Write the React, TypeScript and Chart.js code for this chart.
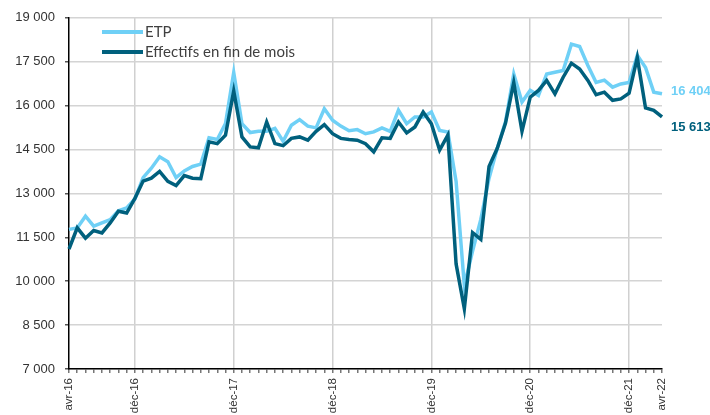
import React, { useEffect, useRef } from "react";
import { Chart, registerables } from "chart.js";

Chart.register(...registerables);

const MONTH_NAMES = ["janv", "févr", "mars", "avr", "mai", "juin", "juil", "août", "sept", "oct", "nov", "déc"];
// Monthly categories from avr-16 to avr-22
const START_YEAR = 16;
const START_MONTH = 3; // avr
const N_MONTHS = 73;
const categories: string[] = [];
for (let i = 0; i < N_MONTHS; i++) {
  const m = (START_MONTH + i) % 12;
  const y = START_YEAR + Math.floor((START_MONTH + i) / 12);
  categories.push(`${MONTH_NAMES[m]}-${y}`);
}

const shownTickLabels = ["avr-16", "déc-16", "déc-17", "déc-18", "déc-19", "déc-20", "déc-21", "avr-22"];
const gridMonths = ["déc-16", "déc-17", "déc-18", "déc-19", "déc-20", "déc-21"];

const etp = [
  11770, 11820, 12220, 11880, 11990, 12100, 12410, 12500, 12810, 13540,
  13860, 14250, 14080, 13540, 13770, 13920, 14000, 14900, 14840, 15390,
  17130, 15380, 15080, 15120, 15120, 15220, 14780, 15330, 15520, 15300,
  15240, 15890, 15500, 15300, 15140, 15180, 15040, 15100, 15240, 15120,
  15840, 15380, 15610, 15610, 15780, 15150, 15100, 13410, 9850, 11030,
  12110, 13520, 14540, 15450, 17080, 16120, 16520, 16350, 17080, 17140,
  17200, 18100, 18020, 17370, 16790, 16870, 16630, 16740, 16790, 17720,
  17300, 16460, 16404,
];

const effectifs = [
  11100, 11824, 11470, 11730, 11650, 11990, 12390, 12330, 12830, 13420,
  13520, 13750, 13410, 13270, 13610, 13520, 13500, 14760, 14700, 14990,
  16500, 14930, 14590, 14560, 15440, 14700, 14630, 14880, 14930, 14820,
  15120, 15350, 15040, 14880, 14840, 14820, 14700, 14420, 14900, 14880,
  15440, 15070, 15270, 15780, 15380, 14480, 14990, 10590, 9060, 11660,
  11430, 13920, 14540, 15400, 16790, 15120, 16290, 16520, 16860, 16400,
  16970, 17450, 17250, 16860, 16370, 16460, 16180, 16230, 16420, 17640,
  15920, 15840, 15613,
];

const seriesNames = ["ETP", "Effectifs en fin de mois"];
const Y_MIN = 7000;
const Y_MAX = 19000;
const Y_STEP = 1500;

const LIGHT = "#6fd0f6";
const DARK = "#00607d";

const fmt = (v: number) => String(Math.round(v)).replace(/\B(?=(\d{3})+(?!\d))/g, " ");

const overlayPlugin = {
  id: "overlay",
  afterDatasetsDraw(chart: any) {
    const ctx = chart.ctx as CanvasRenderingContext2D;
    const ys = chart.scales.y;
    ctx.save();
    // legend
    const items = [
      { name: seriesNames[0], color: LIGHT, y: 32 },
      { name: seriesNames[1], color: DARK, y: 52 },
    ];
    items.forEach((it) => {
      ctx.strokeStyle = it.color;
      ctx.lineWidth = 4;
      ctx.beginPath();
      ctx.moveTo(102, it.y);
      ctx.lineTo(143, it.y);
      ctx.stroke();
      ctx.fillStyle = "#404040";
      ctx.font = "15px Lato, 'Open Sans', sans-serif";
      ctx.textAlign = "left";
      ctx.textBaseline = "middle";
      ctx.fillText(it.name, 145, it.y);
    });
    // end labels
    const xEnd = chart.chartArea.right + 9;
    ctx.font = "bold 13px Arial, 'Liberation Sans', sans-serif";
    ctx.textAlign = "left";
    ctx.textBaseline = "middle";
    const lastE = etp[etp.length - 1];
    const lastF = effectifs[effectifs.length - 1];
    ctx.fillStyle = LIGHT;
    ctx.fillText(fmt(lastE), xEnd, ys.getPixelForValue(lastE) - 2);
    ctx.fillStyle = DARK;
    ctx.fillText(fmt(lastF), xEnd, ys.getPixelForValue(lastF) + 10);
    ctx.restore();
  },
};

export default function App() {
  const ref = useRef<HTMLCanvasElement | null>(null);
  useEffect(() => {
    if (!ref.current) return;
    const chart = new Chart(ref.current, {
      type: "line",
      data: {
        labels: categories,
        datasets: [
          {
            label: seriesNames[0],
            data: etp,
            borderColor: LIGHT,
            backgroundColor: LIGHT,
            borderWidth: 3.5,
            pointRadius: 0,
            tension: 0,
            order: 2,
          },
          {
            label: seriesNames[1],
            data: effectifs,
            borderColor: DARK,
            backgroundColor: DARK,
            borderWidth: 3.5,
            pointRadius: 0,
            tension: 0,
            order: 1,
          },
        ],
      },
      options: {
        responsive: false,
        animation: false,
        layout: { padding: { left: 0, right: 48, top: 13, bottom: 0 } },
        plugins: { legend: { display: false }, tooltip: { enabled: false } },
        scales: {
          x: {
            type: "category",
            offset: false,
            afterFit: (s: any) => {
              s.height = 46;
            },
            border: { color: "#000", width: 1.5 },
            grid: {
              color: (c: any) => (gridMonths.includes(categories[c.index]) ? "#d0d0d0" : "rgba(0,0,0,0)"),
              lineWidth: 1.5,
              tickColor: "#777",
              tickLength: 4,
              drawTicks: true,
            },
            ticks: {
              autoSkip: false,
              minRotation: 90,
              maxRotation: 90,
              padding: 5,
              color: "#333",
              font: { family: "Arial, 'Liberation Sans', sans-serif", size: 11.5 },
              callback: (_v: any, i: number) => (shownTickLabels.includes(categories[i]) ? categories[i] : ""),
            },
          },
          y: {
            min: Y_MIN,
            max: Y_MAX,
            afterFit: (s: any) => {
              s.width = 69;
            },
            border: { color: "#000", width: 1.5 },
            grid: { color: "#d4d4d4", lineWidth: 1.5, tickColor: "#555", tickLength: 4 },
            ticks: {
              stepSize: Y_STEP,
              padding: 10,
              color: "#333",
              font: { family: "Arial, 'Liberation Sans', sans-serif", size: 13 },
              callback: (v: any) => fmt(Number(v)),
            },
          },
        },
      },
      plugins: [overlayPlugin],
    });
    return () => chart.destroy();
  }, []);
  return (
    <div style={{ position: "fixed", left: 0, top: 0, width: 710, height: 415, background: "#fff" }}>
      <canvas ref={ref} width={710} height={415} />
    </div>
  );
}
